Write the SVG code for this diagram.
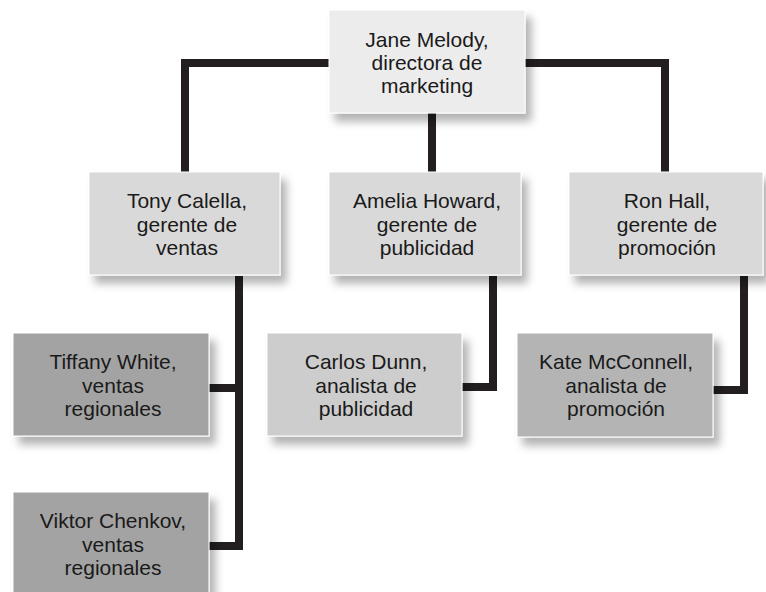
<svg xmlns="http://www.w3.org/2000/svg" width="766" height="592" viewBox="0 0 766 592">
<style>
.box{stroke:#ffffff;stroke-width:1;filter:url(#sh)}
.l1{fill:#ececec}
.l2{fill:#d9d9d9}
.l3{fill:#cdcdcd}
.l4{fill:#a3a3a3}
.l5{fill:#b4b4b4}
text{font-family:"Liberation Sans",Arial,sans-serif;font-size:21px;fill:#1a1a1a;text-anchor:middle}
.c{fill:none;stroke:#231f20;stroke-width:8;stroke-linejoin:miter;stroke-linecap:butt}
</style>
<defs>
<filter id="sh" x="-10%" y="-10%" width="130%" height="140%">
<feDropShadow dx="6" dy="8" stdDeviation="4" flood-color="#000" flood-opacity="0.3"/>
</filter>
</defs>
<rect width="766" height="592" fill="#ffffff"/>
<g id="connectors">
<path class="c" d="M329,63 H185 V172"/>
<path class="c" d="M525,63 H665 V172"/>
<path class="c" d="M432,113 V172"/>
<path class="c" d="M239,276 V550 M209,388 H239 M209,546 H243"/>
<path class="c" d="M493,276 V387 H462"/>
<path class="c" d="M744,276 V390 H713"/>
</g>
<g id="jane">
<rect class="box l1" x="329" y="10" width="196" height="103"/>
<text x="427" y="47">Jane Melody,</text>
<text x="427" y="70">directora de</text>
<text x="427" y="93">marketing</text>
</g>
<g id="tony">
<rect class="box l2" x="89" y="172" width="191" height="103"/>
<text x="187" y="208">Tony Calella,</text>
<text x="187" y="232">gerente de</text>
<text x="187" y="255">ventas</text>
</g>
<g id="amelia">
<rect class="box l2" x="329" y="172" width="192" height="103"/>
<text x="427" y="208">Amelia Howard,</text>
<text x="427" y="232">gerente de</text>
<text x="427" y="255">publicidad</text>
</g>
<g id="ron">
<rect class="box l2" x="569" y="172" width="194" height="103"/>
<text x="667" y="208">Ron Hall,</text>
<text x="667" y="232">gerente de</text>
<text x="667" y="255">promoción</text>
</g>
<g id="tiffany">
<rect class="box l4" x="13" y="333" width="196" height="103"/>
<text x="113" y="369">Tiffany White,</text>
<text x="113" y="393">ventas</text>
<text x="113" y="416">regionales</text>
</g>
<g id="viktor">
<rect class="box l4" x="13" y="492" width="196" height="110"/>
<text x="113" y="528">Viktor Chenkov,</text>
<text x="113" y="552">ventas</text>
<text x="113" y="575">regionales</text>
</g>
<g id="carlos">
<rect class="box l3" x="267" y="333" width="195" height="103"/>
<text x="366" y="369">Carlos Dunn,</text>
<text x="366" y="393">analista de</text>
<text x="366" y="416">publicidad</text>
</g>
<g id="kate">
<rect class="box l5" x="517" y="333" width="196" height="104"/>
<text x="616" y="369">Kate McConnell,</text>
<text x="616" y="393">analista de</text>
<text x="616" y="416">promoción</text>
</g>
</svg>
